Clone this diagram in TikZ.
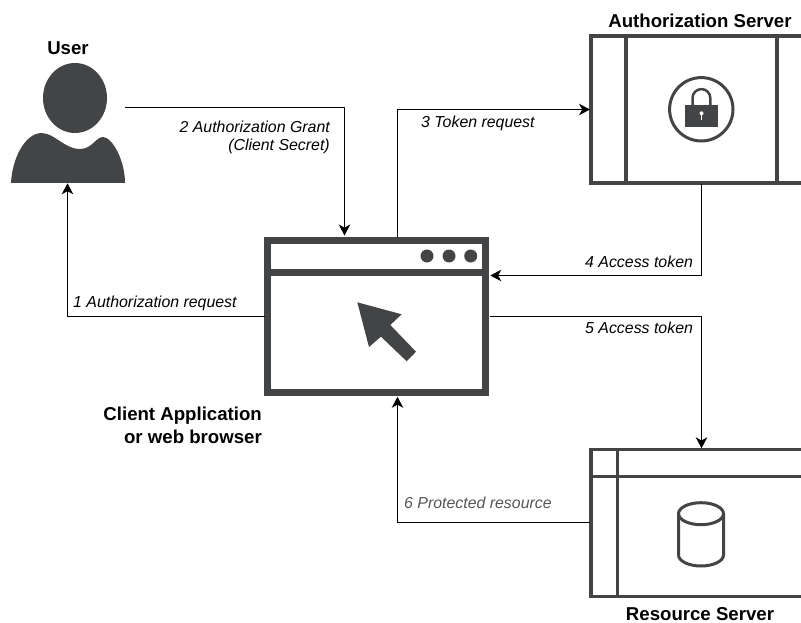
\documentclass[tikz,border=0pt]{standalone}
\usepackage{fontspec}
\setmainfont{Liberation Sans}
\usetikzlibrary{arrows.meta}
\definecolor{ico}{HTML}{434445}
\tikzset{
  conn/.style={draw=black,line width=1bp,-{Stealth[length=11bp,width=11.5bp,inset=3.2bp]}},
  lbl/.style={inner sep=0pt,font=\fontsize{15.95pt}{18pt}\selectfont\itshape,text=black},
  ttl/.style={inner sep=0pt,font=\fontsize{18.7pt}{21pt}\selectfont\bfseries,text=black},
  box/.style={draw=ico,inner sep=0pt,outer sep=0pt},
  anchorbox/.style={inner sep=0pt,outer sep=0pt,minimum width=0pt,minimum height=0pt}
}
\begin{document}
\begin{tikzpicture}[x=1bp,y=-1bp]
\useasboundingbox (0,0) rectangle (801,623);
% user
\fill[ico] (75,98) ellipse [x radius=32,y radius=35];
\fill[ico] (11,183) .. controls (12,160) and (24,134) .. (41,133)
  .. controls (55,133) and (64,149) .. (80,149)
  .. controls (92,149) and (96,137) .. (103,137)
  .. controls (112,137) and (125,160) .. (125,183) -- cycle;
\node[anchorbox,minimum width=114bp,minimum height=120bp,anchor=north west] (user) at (11,63) {};
% client window
\node[box,line width=7bp,minimum width=218bp,minimum height=152.5bp,anchor=north west] (client) at (267.8,240) {};
\draw[ico,line width=7bp] (client.west |- 0,272.3) -- (client.east |- 0,272.3);
\foreach \cx in {427,449,470.7} \fill[ico] (\cx,256) circle (6.5);
\fill[ico] (357.3,302.3) -- (401.7,314.3) -- (390.3,325) -- (416,351.7) -- (406.7,361.3) -- (381,336.7) -- (369,347) -- cycle;
% auth server
\node[box,line width=4bp,minimum width=240bp,minimum height=146bp,anchor=north west] (auth) at (591,36.5) {};
\draw[ico,line width=4bp] (625.5,36.5) -- (625.5,182.5) (776.5,36.5) -- (776.5,182.5);
\draw[ico,line width=3bp] (701.3,109.3) circle (31.7);
\draw[ico,line width=2.5bp] (692.5,106) -- (692.5,98) arc[start angle=180,end angle=360,radius=8.9] -- (710.3,106);
\fill[ico] (684.7,105) rectangle (718,126.7);
\fill[white] (701.5,113.3) circle (2);
\fill[white] (700.9,114) rectangle (702.1,120.5);
% resource server
\node[box,line width=3.5bp,minimum width=240bp,minimum height=147bp,anchor=north west] (res) at (591,449.7) {};
\draw[ico,line width=3.5bp] (617.7,449.7) -- (617.7,596.7) (591,476.3) -- (801,476.3);
\draw[ico,line width=3bp] (678.5,513.7) -- (678.5,555) arc[x radius=22.5,y radius=11,start angle=180,end angle=0] -- (723.5,513.7);
\draw[ico,line width=3bp] (701,513.7) ellipse [x radius=22.5,y radius=11];
% titles
\node[ttl] (tuser) at (68,48) {User};
\node[ttl] (tauth) at (700,21) {Authorization Server};
\node[ttl,anchor=east] (tclient1) at (262,416) {Client Application};
\node[ttl,anchor=east] (tclient2) at (262,437) {or web browser};
\node[ttl] (tres) at (700,614.5) {Resource Server};
% port coordinates
\coordinate (p1a) at (264.5,316.5);
\coordinate (p1b) at (67.5,316.5);
\coordinate (p1c) at (67.5,183.3);
\coordinate (p2a) at (125,107.5);
\coordinate (p2b) at (344.5,107.5);
\coordinate (p2c) at (344.5,235.5);
\coordinate (p3a) at (397.5,236.5);
\coordinate (p3b) at (397.5,109.5);
\coordinate (p3c) at (590,109.5);
\coordinate (p4a) at (701.5,184.5);
\coordinate (p4b) at (701.5,275.5);
\coordinate (p4c) at (490.3,275.5);
\coordinate (p5a) at (489.5,316.5);
\coordinate (p5b) at (701.5,316.5);
\coordinate (p5c) at (701.5,448.3);
\coordinate (p6a) at (589.5,522.5);
\coordinate (p6b) at (397.5,522.5);
\coordinate (p6c) at (397.5,396.8);
% connectors
\draw[conn] (p1a) -- (p1b) -- (p1c);
\draw[conn] (p2a) -- (p2b) -- (p2c);
\draw[conn] (p3a) -- (p3b) -- (p3c);
\draw[conn] (p4a) -- (p4b) -- (p4c);
\draw[conn] (p5a) -- (p5b) -- (p5c);
\draw[conn] (p6a) -- (p6b) -- (p6c);
% labels
\node[lbl,anchor=west] (l1) at (73,303.3) {1 Authorization request};
\node[lbl,anchor=east] (l2a) at (330,127) {2 Authorization Grant};
\node[lbl,anchor=east] (l2b) at (330,146) {(Client Secret)};
\node[lbl,anchor=west] (l3) at (421,123) {3 Token request};
\node[lbl,anchor=west] (l4) at (585,262) {4 Access token};
\node[lbl,anchor=west] (l5) at (585,328) {5 Access token};
\node[lbl,anchor=west,text={rgb,255:red,85;green,85;blue,85}] (l6) at (404,502.5) {6 Protected resource};
\end{tikzpicture}
\end{document}
